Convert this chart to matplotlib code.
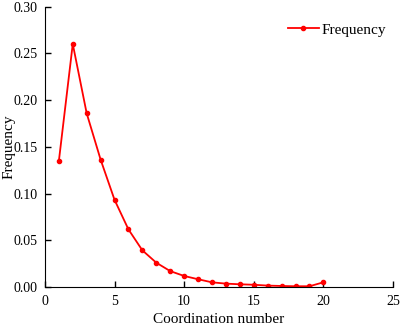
import matplotlib
matplotlib.use('Agg')
from matplotlib import pyplot as plt

plt.rcParams['font.family'] = ['Liberation Serif', 'DejaVu Serif']

# coordination number distribution
coord = [1, 2, 3, 4, 5, 6, 7, 8, 9, 10, 11, 12, 13, 14, 15, 16, 17, 18, 19, 20]
freq = [0.1345, 0.260, 0.1858, 0.1363, 0.0933, 0.0616, 0.0392, 0.0260, 0.0170,
        0.0118, 0.0083, 0.0050, 0.0036, 0.0029, 0.0024, 0.0015, 0.0011, 0.0008,
        0.0008, 0.0050]

fig = plt.figure(figsize=(4.01, 3.28), dpi=100)
ax = fig.add_axes([0.112, 0.125, 0.868, 0.855])

ax.plot(coord, freq, '-o', color='#ff0000', lw=1.3, ms=3, label='Frequency')

ax.set_xlim(0, 25)
ax.set_ylim(0, 0.30)
ax.set_xticks([0, 5, 10, 15, 20, 25])
ax.set_yticks([0, 0.05, 0.10, 0.15, 0.20, 0.25, 0.30])
ax.set_yticklabels(['0.00', '0.05', '0.10', '0.15', '0.20', '0.25', '0.30'])
ax.tick_params(direction='in', length=4, width=1, labelsize=10)
ax.tick_params(axis='x', pad=6)
ax.tick_params(axis='y', pad=5)
ax.spines['top'].set_visible(False)
ax.spines['right'].set_visible(False)
ax.set_xlabel('Coordination number', fontsize=11)
ax.set_ylabel('Frequency', fontsize=11)
ax.xaxis.set_label_coords(0.5, -0.092)
ax.yaxis.label.set_va('center')
ax.yaxis.set_label_coords(-0.103, 0.5)
ax.legend(loc='upper right', frameon=False, fontsize=11, handletextpad=0.2,
          bbox_to_anchor=(1.02, 0.99))

fig.savefig('out.png', dpi=100)
